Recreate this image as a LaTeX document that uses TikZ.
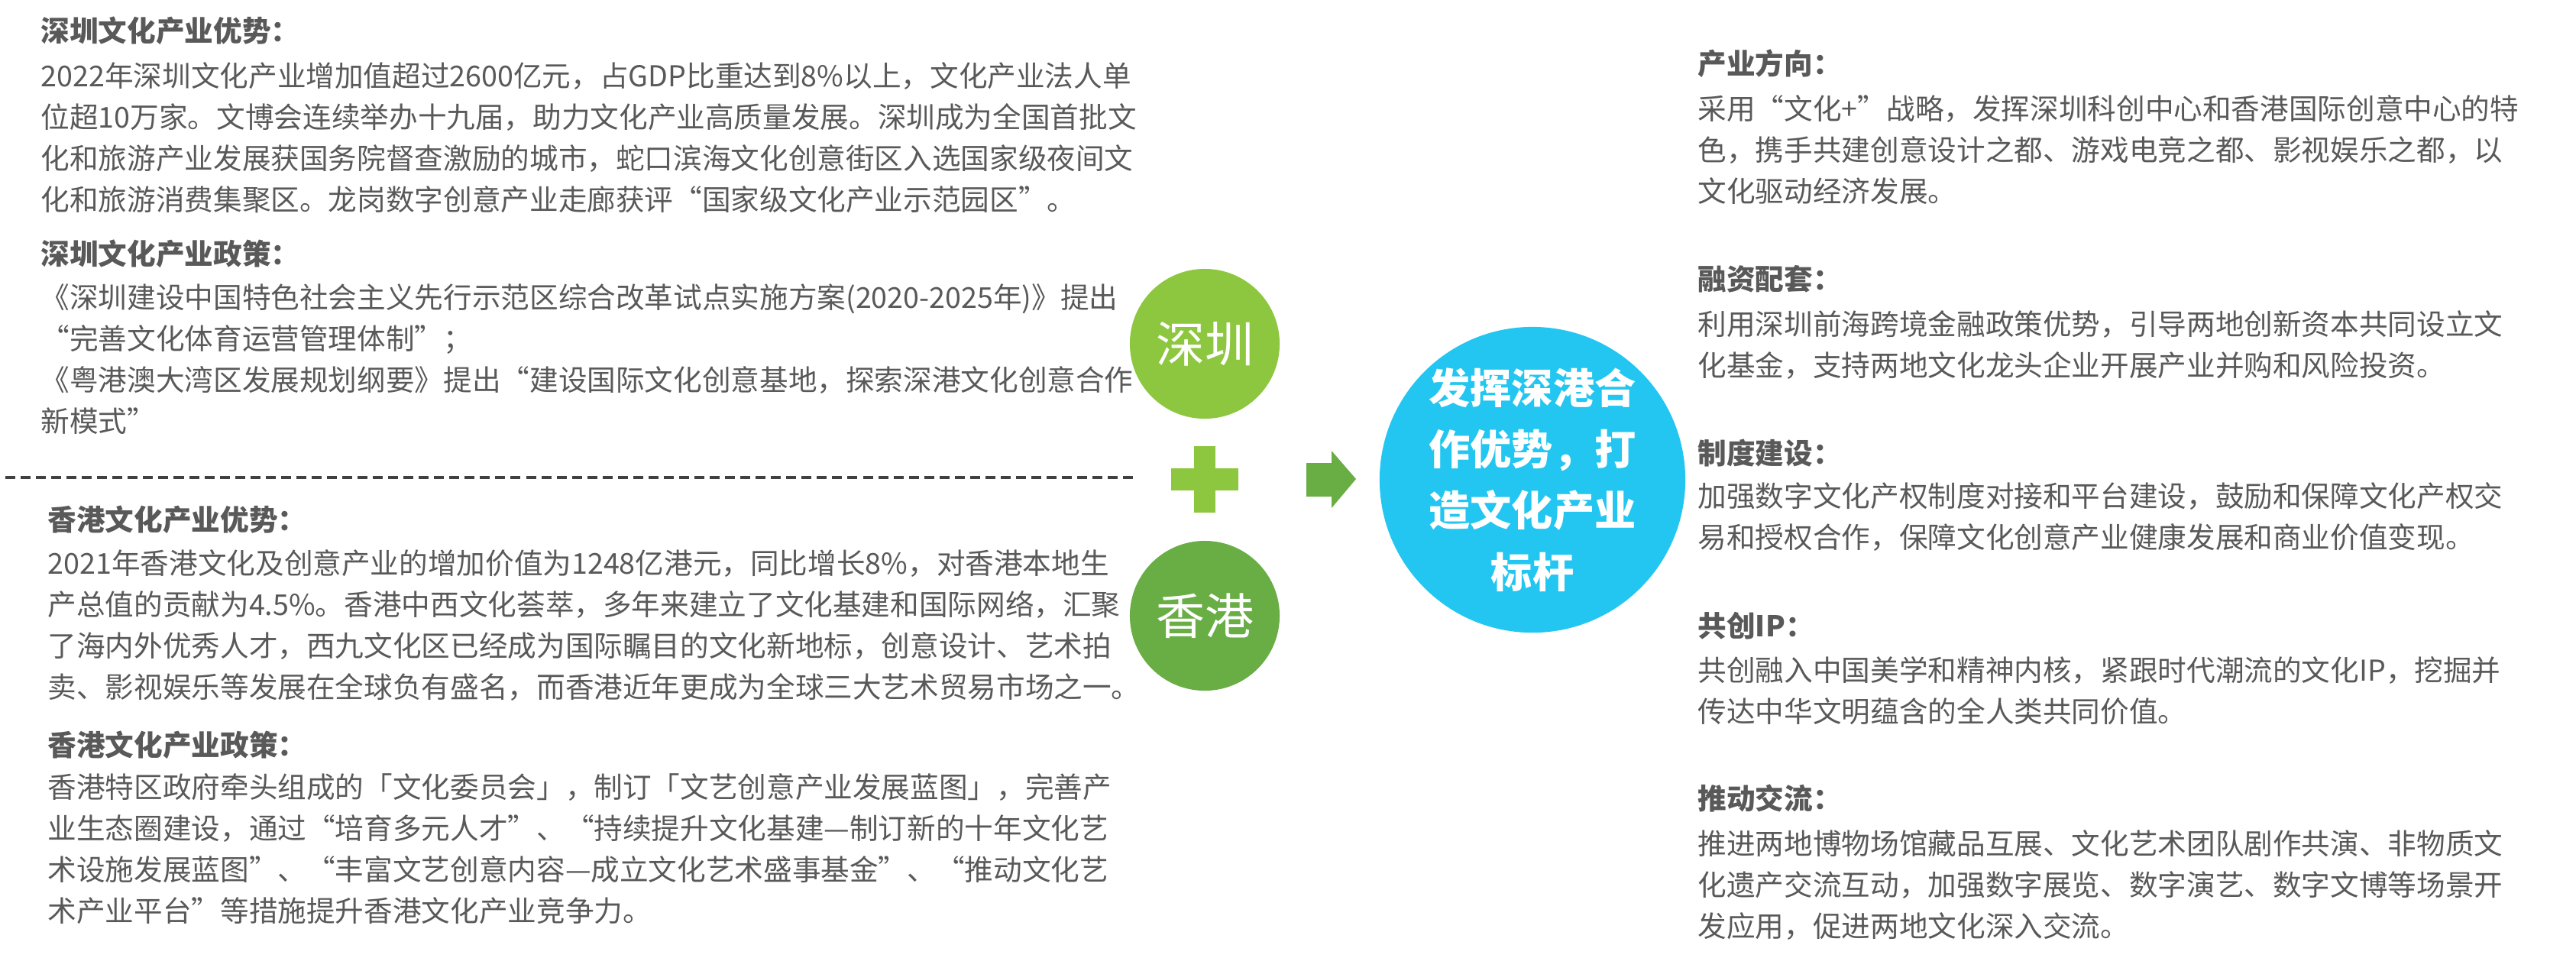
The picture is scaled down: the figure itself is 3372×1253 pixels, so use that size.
\documentclass[tikz,border=0pt]{standalone}
\usepackage{fontspec}
\setmainfont{Noto Sans CJK SC}
\usepackage{xcolor}
\usetikzlibrary{positioning}
\definecolor{txtgray}{HTML}{595959}
\definecolor{dashgray}{HTML}{404040}
\definecolor{lightgreen}{HTML}{8DC63F}
\definecolor{darkgreen}{HTML}{69AD45}
\definecolor{skyblue}{HTML}{22C6F0}

\begin{document}
\begin{tikzpicture}[x=0.01cm, y=-0.01cm,
    head/.style={anchor=west, inner sep=0, text=txtgray, font=\fontsize{10.7pt}{15.36pt}\selectfont\bfseries},
    para/.style={anchor=north west, inner sep=0, text=txtgray, align=left, text width=15cm, font=\fontsize{10.7pt}{15.36pt}\selectfont},
    city/.style={circle, minimum size=1.96cm, inner sep=0, text=white, font=\fontsize{18.2pt}{20pt}\selectfont}]
  \useasboundingbox (0,0) rectangle (3372,1253);

  \node[head] (szadv) at (53,40) {深圳文化产业优势：};
  \node[para] (szadvtxt) at (53,81) {2022年深圳文化产业增加值超过2600亿元，占GDP比重达到8\%以上，文化产业法人单\\
    位超10万家。文博会连续举办十九届，助力文化产业高质量发展。深圳成为全国首批文\\
    化和旅游产业发展获国务院督查激励的城市，蛇口滨海文化创意街区入选国家级夜间文\\
    化和旅游消费集聚区。龙岗数字创意产业走廊获评“国家级文化产业示范园区”。};
  \node[head] (szpol) at (53,332) {深圳文化产业政策：};
  \node[para] (szpoltxt) at (53,371) {《深圳建设中国特色社会主义先行示范区综合改革试点实施方案(2020-2025年)》提出\\
    “完善文化体育运营管理体制”；\\
    《粤港澳大湾区发展规划纲要》提出“建设国际文化创意基地，探索深港文化创意合作\\
    新模式”};

  \draw[dashgray, line width=0.95pt, dash pattern=on 3.7pt off 2pt] (7,625) -- (1483,625);

  \node[head] (hkadv) at (62,680) {香港文化产业优势：};
  \node[para] (hkadvtxt) at (62,719) {2021年香港文化及创意产业的增加价值为1248亿港元，同比增长8\%，对香港本地生\\
    产总值的贡献为4.5\%。香港中西文化荟萃，多年来建立了文化基建和国际网络，汇聚\\
    了海内外优秀人才，西九文化区已经成为国际瞩目的文化新地标，创意设计、艺术拍\\
    卖、影视娱乐等发展在全球负有盛名，而香港近年更成为全球三大艺术贸易市场之一。};
  \node[head] (hkpol) at (62,975) {香港文化产业政策：};
  \node[para] (hkpoltxt) at (62,1012) {香港特区政府牵头组成的「文化委员会」，制订「文艺创意产业发展蓝图」，完善产\\
    业生态圈建设，通过“培育多元人才”、“持续提升文化基建—制订新的十年文化艺\\
    术设施发展蓝图”、“丰富文艺创意内容—成立文化艺术盛事基金”、“推动文化艺\\
    术产业平台”等措施提升香港文化产业竞争力。};

  \node[city, fill=lightgreen] (sz) at (1577,450) {深圳};
  \node[city, fill=darkgreen] (hk) at (1577,806) {香港};
  \fill[lightgreen] (1563,584) rectangle (1591,671);
  \fill[lightgreen] (1533,613) rectangle (1621,642);
  \fill[darkgreen] (1710,606) -- (1743,606) -- (1743,590) -- (1775,627) -- (1743,665) -- (1743,650) -- (1710,650) -- cycle;
  \node[circle, fill=skyblue, minimum size=4cm, inner sep=0, text=white, align=center,
    font=\fontsize{15.4pt}{22.8pt}\selectfont\bfseries] (goal) at (2006,628) {发挥深港合\\作优势，打\\造文化产业\\标杆};

  \node[head] (dir) at (2222,83) {产业方向：};
  \node[para] (dirtxt) at (2222,124) {采用“文化+”战略，发挥深圳科创中心和香港国际创意中心的特\\
    色，携手共建创意设计之都、游戏电竞之都、影视娱乐之都，以\\
    文化驱动经济发展。};
  \node[head] (fund) at (2222,365) {融资配套：};
  \node[para] (fundtxt) at (2222,406) {利用深圳前海跨境金融政策优势，引导两地创新资本共同设立文\\
    化基金，支持两地文化龙头企业开展产业并购和风险投资。};
  \node[head] (rule) at (2222,593) {制度建设：};
  \node[para] (ruletxt) at (2222,631) {加强数字文化产权制度对接和平台建设，鼓励和保障文化产权交\\
    易和授权合作，保障文化创意产业健康发展和商业价值变现。};
  \node[head] (ip) at (2222,819) {共创IP：};
  \node[para] (iptxt) at (2222,859) {共创融入中国美学和精神内核，紧跟时代潮流的文化IP，挖掘并\\
    传达中华文明蕴含的全人类共同价值。};
  \node[head] (swap) at (2222,1045) {推动交流：};
  \node[para] (swaptxt) at (2222,1086) {推进两地博物场馆藏品互展、文化艺术团队剧作共演、非物质文\\
    化遗产交流互动，加强数字展览、数字演艺、数字文博等场景开\\
    发应用，促进两地文化深入交流。};
\end{tikzpicture}
\end{document}
